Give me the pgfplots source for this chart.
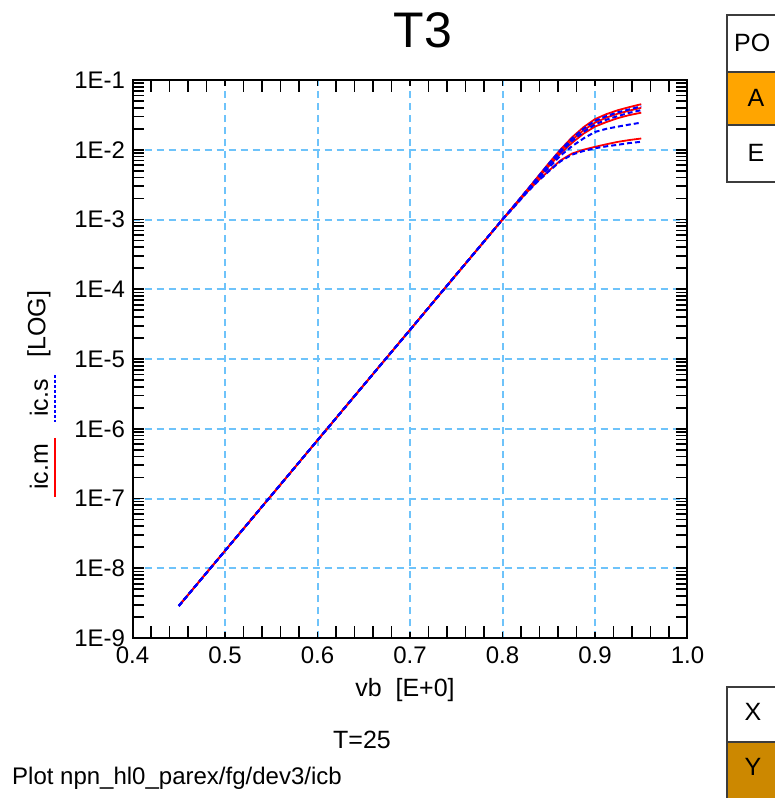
\documentclass[border=0pt]{standalone}
\usepackage{fontspec}
\setmainfont{Liberation Sans}
\usepackage{pgfplots}
\pgfplotsset{compat=1.18}
\definecolor{gridblue}{RGB}{110,195,250}
\definecolor{aorange}{RGB}{255,165,0}
\definecolor{ybrown}{RGB}{204,136,0}
\definecolor{boxgray}{RGB}{60,60,60}
\definecolor{cred}{RGB}{255,0,0}
\definecolor{cblue}{RGB}{0,0,255}
\begin{document}
\begin{tikzpicture}[x=1pt,y=1pt]
\clip (0,0) rectangle (775,798);
\fill[white] (0,0) rectangle (775,798);
\begin{axis}[at={(132.5pt,160pt)}, anchor=south west, scale only axis,
  width=555pt, height=558pt,
  xmin=0.4, xmax=1.0, ymode=log, ymin=1e-9, ymax=1e-1,
  xtick={0.4,0.5,0.6,0.7,0.8,0.9,1.0},
  xticklabels={0.4,0.5,0.6,0.7,0.8,0.9,1.0},
  minor x tick num=4,
  ytick={1e-9,1e-8,1e-7,1e-6,1e-5,1e-4,1e-3,1e-2,1e-1},
  yticklabels={1E-9,1E-8,1E-7,1E-6,1E-5,1E-4,1E-3,1E-2,1E-1},
  grid=major,
  major grid style={gridblue, dash pattern=on 7pt off 5pt, line width=2pt},
  tick align=inside, major tick length=6pt, minor tick length=12pt,
  every tick/.style={black, line width=1.6pt},
  axis line style={line width=2pt},
  tick label style={font=\fontsize{24}{28}\selectfont},
  xticklabel style={yshift=-5pt},
  yticklabel style={xshift=-4pt},
]
% ic.m (red, solid)
\addplot[cred, line width=1.8pt] coordinates {(0.45,2.88e-9)(0.5,1.78e-8)(0.55,1.10e-7)(0.6,6.84e-7)(0.65,4.23e-6)(0.7,2.61e-5)(0.75,1.62e-4)(0.8,1.0e-3)(0.8125,1.58e-3)(0.825,2.5e-3)(0.8375,4.0e-3)(0.85,6.4e-3)(0.8625,1.0e-2)(0.875,1.5e-2)(0.8875,2.1e-2)(0.9,2.75e-2)(0.9125,3.25e-2)(0.925,3.7e-2)(0.9375,4.1e-2)(0.95,4.5e-2)};
\addplot[cred, line width=1.8pt] coordinates {(0.45,2.88e-9)(0.5,1.78e-8)(0.55,1.10e-7)(0.6,6.84e-7)(0.65,4.23e-6)(0.7,2.61e-5)(0.75,1.62e-4)(0.8,1.0e-3)(0.8125,1.57e-3)(0.825,2.48e-3)(0.8375,3.9e-3)(0.85,6.1e-3)(0.8625,9.4e-3)(0.875,1.38e-2)(0.8875,1.9e-2)(0.9,2.45e-2)(0.9125,2.9e-2)(0.925,3.3e-2)(0.9375,3.65e-2)(0.95,4.0e-2)};
\addplot[cred, line width=1.8pt] coordinates {(0.45,2.88e-9)(0.5,1.78e-8)(0.55,1.10e-7)(0.6,6.84e-7)(0.65,4.23e-6)(0.7,2.61e-5)(0.75,1.62e-4)(0.8,1.0e-3)(0.8125,1.56e-3)(0.825,2.45e-3)(0.8375,3.8e-3)(0.85,5.8e-3)(0.8625,8.8e-3)(0.875,1.25e-2)(0.8875,1.7e-2)(0.9,2.15e-2)(0.9125,2.5e-2)(0.925,2.85e-2)(0.9375,3.15e-2)(0.95,3.4e-2)};
\addplot[cred, line width=1.8pt] coordinates {(0.45,2.88e-9)(0.5,1.78e-8)(0.55,1.10e-7)(0.6,6.84e-7)(0.65,4.23e-6)(0.7,2.61e-5)(0.75,1.62e-4)(0.8,1.0e-3)(0.8125,1.52e-3)(0.825,2.35e-3)(0.8375,3.5e-3)(0.85,5.0e-3)(0.8625,7.0e-3)(0.875,8.8e-3)(0.8875,1.0e-2)(0.9,1.1e-2)(0.9125,1.2e-2)(0.925,1.3e-2)(0.9375,1.38e-2)(0.95,1.45e-2)};
% ic.s (blue, dashed)
\addplot[cblue, line width=2pt, dash pattern=on 5pt off 3pt] coordinates {(0.45,2.88e-9)(0.5,1.78e-8)(0.55,1.10e-7)(0.6,6.84e-7)(0.65,4.23e-6)(0.7,2.61e-5)(0.75,1.62e-4)(0.8,1.0e-3)(0.8125,1.58e-3)(0.825,2.49e-3)(0.8375,3.95e-3)(0.85,6.3e-3)(0.8625,9.8e-3)(0.875,1.45e-2)(0.8875,2.0e-2)(0.9,2.6e-2)(0.9125,3.05e-2)(0.925,3.45e-2)(0.9375,3.8e-2)(0.95,4.2e-2)};
\addplot[cblue, line width=2pt, dash pattern=on 5pt off 3pt] coordinates {(0.45,2.88e-9)(0.5,1.78e-8)(0.55,1.10e-7)(0.6,6.84e-7)(0.65,4.23e-6)(0.7,2.61e-5)(0.75,1.62e-4)(0.8,1.0e-3)(0.8125,1.57e-3)(0.825,2.47e-3)(0.8375,3.85e-3)(0.85,6.0e-3)(0.8625,9.2e-3)(0.875,1.33e-2)(0.8875,1.8e-2)(0.9,2.3e-2)(0.9125,2.7e-2)(0.925,3.05e-2)(0.9375,3.4e-2)(0.95,3.7e-2)};
\addplot[cblue, line width=2pt, dash pattern=on 5pt off 3pt] coordinates {(0.45,2.88e-9)(0.5,1.78e-8)(0.55,1.10e-7)(0.6,6.84e-7)(0.65,4.23e-6)(0.7,2.61e-5)(0.75,1.62e-4)(0.8,1.0e-3)(0.8125,1.55e-3)(0.825,2.42e-3)(0.8375,3.7e-3)(0.85,5.5e-3)(0.8625,8.2e-3)(0.875,1.12e-2)(0.8875,1.45e-2)(0.9,1.8e-2)(0.9125,2.0e-2)(0.925,2.15e-2)(0.9375,2.3e-2)(0.95,2.45e-2)};
\addplot[cblue, line width=2pt, dash pattern=on 5pt off 3pt] coordinates {(0.45,2.88e-9)(0.5,1.78e-8)(0.55,1.10e-7)(0.6,6.84e-7)(0.65,4.23e-6)(0.7,2.61e-5)(0.75,1.62e-4)(0.8,1.0e-3)(0.8125,1.51e-3)(0.825,2.33e-3)(0.8375,3.45e-3)(0.85,4.9e-3)(0.8625,6.8e-3)(0.875,8.5e-3)(0.8875,9.6e-3)(0.9,1.05e-2)(0.9125,1.12e-2)(0.925,1.18e-2)(0.9375,1.25e-2)(0.95,1.3e-2)};
\end{axis}
% titles and labels
\node[font=\fontsize{50}{60}\selectfont] at (423,768) {T3};
\node[font=\fontsize{25}{30}\selectfont] at (405,108) {vb\ \ [E+0]};
\node[font=\fontsize{25}{30}\selectfont] at (362,58) {T=25};
\node[font=\fontsize{24}{29}\selectfont, anchor=west, inner sep=0pt] at (12,20) {Plot npn\_hl0\_parex/fg/dev3/icb};
% y label
\node[rotate=90, font=\fontsize{25}{30}\selectfont] at (39,331) {ic.m};
\node[rotate=90, font=\fontsize{25}{30}\selectfont] at (39,400) {ic.s};
\node[rotate=90, font=\fontsize{25}{30}\selectfont] at (39,474) {[LOG]};
\draw[cred, line width=2pt] (55,798-438) -- (55,798-497);
\draw[cblue, line width=2pt, dash pattern=on 3pt off 2pt] (55,798-375) -- (55,798-422);
% right-hand boxes
\fill[white] (727,798-15) rectangle (800,798-182);
\fill[aorange] (727,798-72) rectangle (800,798-125);
\draw[boxgray, line width=1.5pt] (727,798-15) rectangle (800,798-182);
\draw[boxgray, line width=1.5pt] (727,798-72) -- (800,798-72);
\draw[boxgray, line width=1.5pt] (727,798-125) -- (800,798-125);
\node[font=\fontsize{25}{30}\selectfont, anchor=west, inner sep=0pt] at (734,798-43) {PO};
\node[font=\fontsize{25}{30}\selectfont] at (756,798-98) {A};
\node[font=\fontsize{25}{30}\selectfont] at (756,798-153) {E};
\fill[ybrown] (727,798-742) rectangle (800,-10);
\draw[boxgray, line width=1.5pt] (727,798-687) rectangle (800,-10);
\draw[boxgray, line width=1.5pt] (727,798-742) -- (800,798-742);
\node[font=\fontsize{25}{30}\selectfont] at (753,798-712) {X};
\node[font=\fontsize{25}{30}\selectfont] at (753,798-767) {Y};
\end{tikzpicture}
\end{document}
